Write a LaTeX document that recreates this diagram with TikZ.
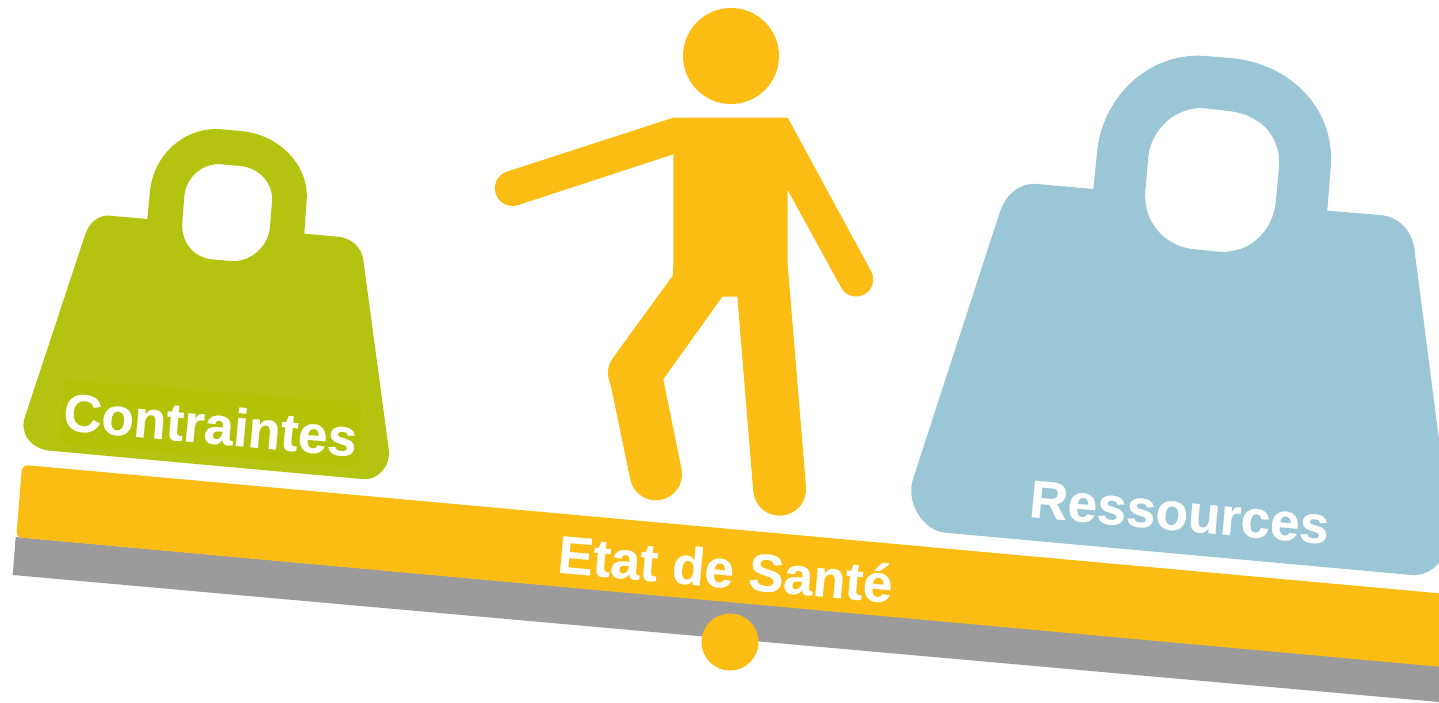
\documentclass[tikz,border=0pt]{standalone}
\usepackage{fontspec}
\setmainfont[BoldFeatures={FakeBold=0.4}]{Liberation Sans}
\definecolor{amber}{HTML}{FBBD13}
\definecolor{olive}{HTML}{B3C30F}
\definecolor{olivepatch}{HTML}{B3C107}
\definecolor{sky}{HTML}{9AC6D5}
\definecolor{beam}{HTML}{9B9B9B}
\tikzset{lbl/.style={text=white,font=\bfseries\fontsize{53}{53}\selectfont,inner sep=0pt,transform shape}}
\begin{document}
\begin{tikzpicture}[x=1pt,y=-1pt]
\useasboundingbox (0,0) rectangle (1439,703);
% beam
\fill[beam] (15.7,537) -- (1439,666) -- (1439,702) -- (12.7,575) -- cycle;
\fill[amber] (28,465.3) -- (1439,593.3) -- (1439,666.7) -- (21.7,537.7)
 .. controls (18,537.4) and (16.3,535) .. (16.7,532)
 -- (21.7,470)
 .. controls (22,467) and (25,465) .. (28,465.3) -- cycle;
\fill[amber] (730,642) circle (28.5);
% person
\fill[amber] (731,56) circle (48);
\fill[amber] (673.3,117.7) -- (787.7,117.7) -- (871.3,271.7)
 arc[start angle=27.2,delta angle=-180,radius=17.04pt]
 -- (787.7,190) -- (787.7,265) -- (806,486.7)
 arc[start angle=5.4,delta angle=-180,radius=26.47pt]
 -- (737.3,296.7) -- (722.3,296.7) -- (663.3,379.3) -- (681.7,470)
 arc[start angle=9.1,delta angle=-180,radius=26.18pt]
 -- (610.7,385)
 .. controls (607,376) and (606.5,367) .. (612.7,358.3)
 -- (672.7,275.7) -- (673.3,265) -- (673.3,154.3) -- (518.3,205)
 arc[start angle=-70.8,delta angle=-180,radius=17.63pt] -- cycle;
% left weight
\fill[olive,even odd rule] (110,215.7) -- (147.3,219) -- (150,191.7)
 .. controls (153,155) and (185,126) .. (221.7,129.3)
 -- (240,131)
 .. controls (279,134) and (309,165) .. (306.7,200)
 -- (304.3,233.7) -- (338.3,236.7)
 .. controls (351,238) and (361.5,247) .. (363.3,260)
 -- (388.7,449)
 .. controls (391,466) and (378,481) .. (361.7,479)
 -- (50,450.7)
 .. controls (31,449) and (19,433) .. (25,416.7)
 -- (85,235)
 .. controls (89,223) and (98,214.6) .. (110,215.7) -- cycle
 (184.3,196.7) .. controls (185.5,178) and (202,162.5) .. (221.7,164.3)
 -- (240,166)
 .. controls (259,167.5) and (273.5,183) .. (272,201.7)
 -- (270,226.7)
 .. controls (268.5,247) and (250,262.8) .. (230,261)
 -- (211.7,259.3)
 .. controls (193,257.5) and (180.5,241) .. (182.3,221.7) -- cycle;
\fill[olivepatch] (64,379.3) -- (362.7,403.3) -- (357.7,467.7) -- (59.3,444) -- cycle;
% right weight
\fill[sky,even odd rule] (1036.7,184) -- (1093.3,189) -- (1097,153)
 .. controls (1101,100) and (1147,51.5) .. (1205,56)
 -- (1230,58)
 .. controls (1288,62.6) and (1335.5,107) .. (1330.7,167)
 -- (1327.3,210.7) -- (1380,215)
 .. controls (1398,216.5) and (1412,230) .. (1414.5,250)
 -- (1450,525)
 .. controls (1453,553) and (1434,577) .. (1411.7,575)
 -- (945,532.7)
 .. controls (925,531) and (905.7,505) .. (912.7,480)
 -- (1000,211.7)
 .. controls (1006,194) and (1020,182.7) .. (1036.7,184) -- cycle
 (1148.3,156.7) .. controls (1151,130) and (1175,106) .. (1205,108.3)
 -- (1228,111)
 .. controls (1258,113.4) and (1281.5,135) .. (1279,166.7)
 -- (1276,200)
 .. controls (1273.5,231) and (1250,254) .. (1218.3,251.7)
 -- (1195,249.3)
 .. controls (1165,247) and (1143,222) .. (1145.3,191.7) -- cycle;
% labels
\node[lbl,rotate=-5.2] (c) at (210.5,424.5) {Contraintes};
\node[lbl,rotate=-5.2] (r) at (1179.5,512.5) {Ressources};
\node[lbl,rotate=-5.2] (e) at (725.5,568.5) {Etat de Santé};
\end{tikzpicture}
\end{document}
